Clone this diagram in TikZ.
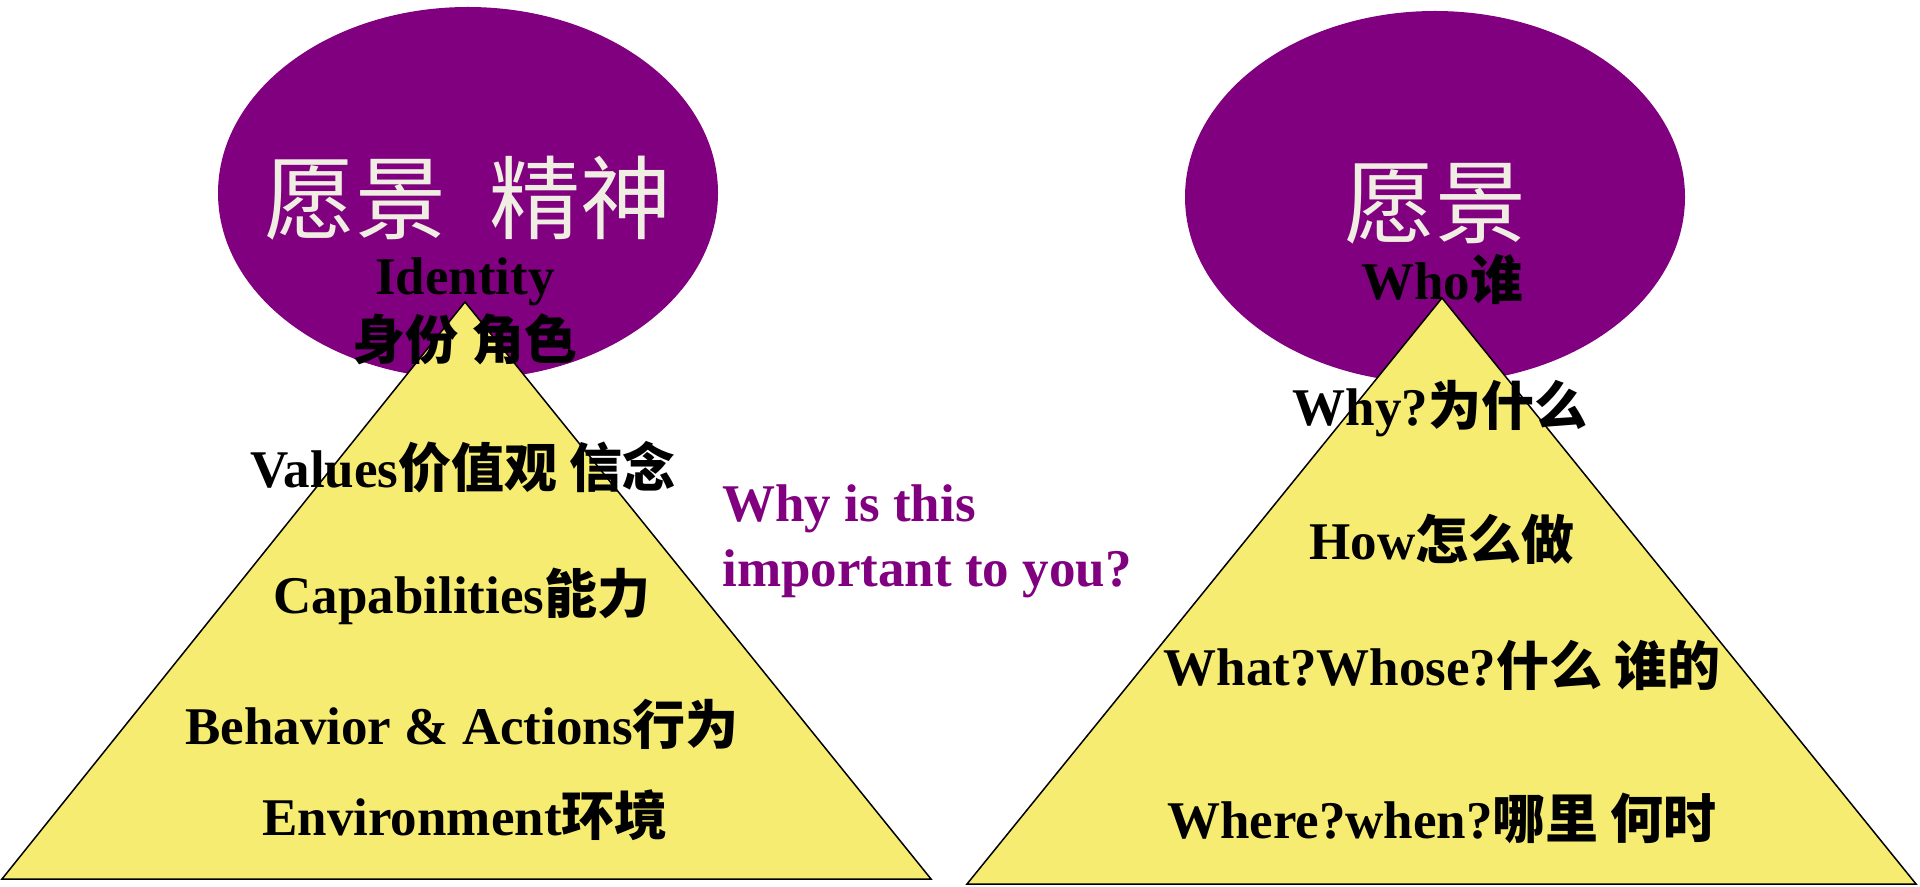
\documentclass[tikz,border=0pt]{standalone}
\usepackage{fontspec}
\setmainfont{Liberation Serif}
\newfontfamily\cjk{Noto Sans CJK SC}
\usetikzlibrary{shapes.geometric}
\definecolor{vpurple}{HTML}{800080}
\definecolor{vyellow}{HTML}{F6EC72}
\definecolor{vcream}{HTML}{F0EDE2}
\newcommand{\zh}[1]{{\cjk\bfseries #1}}
\tikzset{
  bubble/.style={ellipse, fill=vpurple, draw=none, inner sep=0pt, minimum width=250pt, minimum height=186pt},
  pyramid/.style={fill=vyellow, draw=black, line width=0.75pt, line join=miter},
  title/.style={text=vcream, font=\fontsize{45.5}{52}\selectfont\cjk, inner sep=0pt},
  label/.style={text=black, font=\fontsize{26.5}{32}\selectfont\bfseries, inner sep=0pt},
  note/.style={text=vpurple, font=\fontsize{26.5}{32.5}\selectfont\bfseries, inner sep=0pt, align=left}
}
\begin{document}
\begin{tikzpicture}[x=0.5pt,y=-0.5pt]
\useasboundingbox (0,0) rectangle (1920,887);
% left
\node[bubble] (eL) at (468,193) {};
\coordinate (aL) at (465,302);
\coordinate (blL) at (2,879);
\coordinate (brL) at (931,879);
\draw[pyramid] (aL) -- (blL) -- (brL) -- cycle;
\node[title] (tL) at (468,198) {愿景\hspace{22pt}精神};
\node[label] (idL) at (465,282) {Identity};
\node[label] (roleL) at (465,339) {\zh{身份 角色}};
\node[label] (valL) at (463,467) {Values\zh{价值观 信念}};
\node[label] (capL) at (462,596) {Capabilities\zh{能力}};
\node[label] (behL) at (462,724) {Behavior \& Actions\zh{行为}};
\node[label] (envL) at (465,815) {Environment\zh{环境}};
% middle note
\node[note, anchor=west] (why) at (722,541) {Why is this\\important to you?};
% right
\node[bubble] (eR) at (1435,197) {};
\coordinate (aR) at (1442,298);
\coordinate (blR) at (967,884);
\coordinate (brR) at (1916,884);
\draw[pyramid] (aR) -- (blR) -- (brR) -- cycle;
\node[title] (tR) at (1435,204) {愿景};
\node[label] (whoR) at (1442,279) {Who\zh{谁}};
\node[label] (whyR) at (1440,409) {Why?\zh{为什么}};
\node[label] (howR) at (1442,539) {How\zh{怎么做}};
\node[label] (whatR) at (1442,665) {What?Whose?\zh{什么 谁的}};
\node[label] (whereR) at (1442,818) {Where?when?\zh{哪里 何时}};
\end{tikzpicture}
\end{document}
